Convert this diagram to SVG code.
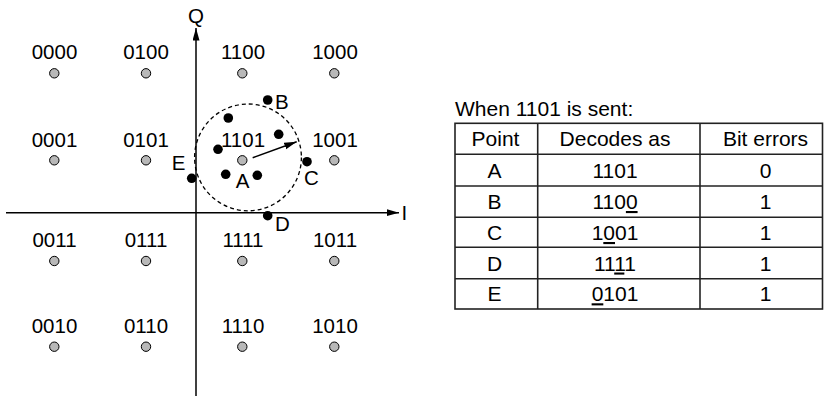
<svg xmlns="http://www.w3.org/2000/svg" width="824" height="397" viewBox="0 0 824 397">
<style>
text{font-family:"Liberation Sans",Arial,sans-serif;fill:#000}
.lab{font-size:20.5px;text-anchor:middle}
.let{font-size:20.5px}
.tb{font-size:21px}
.tc{font-size:21px;text-anchor:middle}
.sym{fill:#b8b8b8;stroke:#000;stroke-width:1}
.dot{fill:#000}
.ax{stroke:#000;stroke-width:1.5;fill:none}
.grid{stroke:#222;stroke-width:1.6;fill:none}
.u{text-decoration:underline}
</style>
<defs>
<marker id="ah" markerUnits="userSpaceOnUse" markerWidth="13" markerHeight="8" refX="12.5" refY="3.5" orient="auto">
<path d="M0,0 L12.5,3.5 L0,7 z" fill="#000"/>
</marker>
</defs>
<g id="connectors">
<line class="ax" x1="196" y1="396" x2="196" y2="28" marker-end="url(#ah)"/>
<line class="ax" x1="6" y1="212.7" x2="399" y2="212.7" marker-end="url(#ah)"/>
<circle cx="248" cy="157.4" r="53.4" fill="none" stroke="#000" stroke-width="1.3" stroke-dasharray="4 3"/>
<line class="ax" x1="252.7" y1="157.7" x2="296.7" y2="141.7" marker-end="url(#ah)"/>
</g>
<g id="axis-labels">
<text class="lab" x="196" y="23.3">Q</text>
<text class="let" x="401.5" y="219.5">I</text>
</g>
<g id="n0000"><text class="lab" x="54.5" y="59">0000</text><circle class="sym" cx="54.3" cy="73.3" r="4.7"/></g>
<g id="n0100"><text class="lab" x="146" y="59">0100</text><circle class="sym" cx="146" cy="73.3" r="4.7"/></g>
<g id="n1100"><text class="lab" x="243" y="59">1100</text><circle class="sym" cx="242.3" cy="73.3" r="4.7"/></g>
<g id="n1000"><text class="lab" x="335" y="59">1000</text><circle class="sym" cx="334.3" cy="73.3" r="4.7"/></g>
<g id="n0001"><text class="lab" x="54.5" y="146.5">0001</text><circle class="sym" cx="54.3" cy="160.3" r="4.7"/></g>
<g id="n0101"><text class="lab" x="146" y="146.5">0101</text><circle class="sym" cx="146" cy="160.3" r="4.7"/></g>
<g id="n1101"><text class="lab" x="243" y="146.5">1101</text><circle class="sym" cx="242.3" cy="160.3" r="4.7"/></g>
<g id="n1001"><text class="lab" x="335" y="146.5">1001</text><circle class="sym" cx="334.3" cy="160.3" r="4.7"/></g>
<g id="n0011"><text class="lab" x="54.5" y="246.5">0011</text><circle class="sym" cx="54.3" cy="261" r="4.7"/></g>
<g id="n0111"><text class="lab" x="146" y="246.5">0111</text><circle class="sym" cx="146" cy="261" r="4.7"/></g>
<g id="n1111"><text class="lab" x="243" y="246.5">1111</text><circle class="sym" cx="242.3" cy="261" r="4.7"/></g>
<g id="n1011"><text class="lab" x="335" y="246.5">1011</text><circle class="sym" cx="334.3" cy="261" r="4.7"/></g>
<g id="n0010"><text class="lab" x="54.5" y="332.7">0010</text><circle class="sym" cx="54.3" cy="346.7" r="4.7"/></g>
<g id="n0110"><text class="lab" x="146" y="332.7">0110</text><circle class="sym" cx="146" cy="346.7" r="4.7"/></g>
<g id="n1110"><text class="lab" x="243" y="332.7">1110</text><circle class="sym" cx="242.3" cy="346.7" r="4.7"/></g>
<g id="n1010"><text class="lab" x="335" y="332.7">1010</text><circle class="sym" cx="334.3" cy="346.7" r="4.7"/></g>
<g id="received">
<circle class="dot" cx="228.3" cy="118" r="4.8"/>
<circle class="dot" cx="278.7" cy="134.3" r="4.8"/>
<circle class="dot" cx="218" cy="149.3" r="4.8"/>
<circle class="dot" cx="225.7" cy="174.3" r="4.8"/>
<circle class="dot" cx="257.3" cy="175.3" r="4.8"/>
</g>
<g id="pA"><text class="lab" x="242.7" y="187.7">A</text></g>
<g id="pB"><circle class="dot" cx="267.7" cy="100" r="4.8"/><text class="let" x="275" y="109">B</text></g>
<g id="pC"><circle class="dot" cx="307" cy="161.7" r="4.8"/><text class="let" x="304" y="185">C</text></g>
<g id="pD"><circle class="dot" cx="267.7" cy="215.7" r="4.8"/><text class="let" x="275" y="230.7">D</text></g>
<g id="pE"><circle class="dot" cx="191.7" cy="178.3" r="4.8"/><text class="let" x="171.7" y="170">E</text></g>
<g id="table">
<text class="tb" x="455" y="115.5">When 1101 is sent:</text>
<rect class="grid" x="455" y="123.3" width="367.5" height="185.7"/>
<line class="grid" x1="537.7" y1="123.3" x2="537.7" y2="309"/>
<line class="grid" x1="700" y1="123.3" x2="700" y2="309"/>
<line class="grid" x1="455" y1="154.3" x2="822.5" y2="154.3"/>
<line class="grid" x1="455" y1="186" x2="822.5" y2="186"/>
<line class="grid" x1="455" y1="217.3" x2="822.5" y2="217.3"/>
<line class="grid" x1="455" y1="247.3" x2="822.5" y2="247.3"/>
<line class="grid" x1="455" y1="278.7" x2="822.5" y2="278.7"/>
<text class="tc" x="495.5" y="146">Point</text>
<text class="tc" x="615" y="146">Decodes as</text>
<text class="tc" x="765.5" y="146">Bit errors</text>
<text class="tc" x="494.5" y="177.5">A</text>
<text class="tc" x="615" y="177.5">1101</text>
<text class="tc" x="765.5" y="177.5">0</text>
<text class="tc" x="494.5" y="209">B</text>
<text class="tc" x="615" y="209">110<tspan class="u">0</tspan></text>
<text class="tc" x="765.5" y="209">1</text>
<text class="tc" x="494.5" y="240">C</text>
<text class="tc" x="615" y="240">1<tspan class="u">0</tspan>01</text>
<text class="tc" x="765.5" y="240">1</text>
<text class="tc" x="494.5" y="270.5">D</text>
<text class="tc" x="615" y="270.5">11<tspan class="u">1</tspan>1</text>
<text class="tc" x="765.5" y="270.5">1</text>
<text class="tc" x="494.5" y="301.3">E</text>
<text class="tc" x="615" y="301.3"><tspan class="u">0</tspan>101</text>
<text class="tc" x="765.5" y="301.3">1</text>
</g>
</svg>
